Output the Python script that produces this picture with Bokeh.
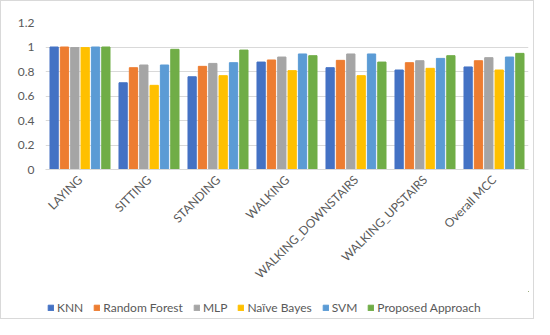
from bokeh.plotting import figure
from bokeh.layouts import column
from bokeh.models import ColumnDataSource, FactorRange, Legend, LegendItem, FixedTicker, Range1d
from bokeh.transform import dodge
from bokeh.embed import file_html
from bokeh.resources import INLINE
import math

categories = ["LAYING", "SITTING", "STANDING", "WALKING", "WALKING_DOWNSTAIRS", "WALKING_UPSTAIRS", "Overall MCC"]
series_names = ["KNN", "Random Forest", "MLP", "Naïve Bayes", "SVM", "Proposed Approach"]
knn = [1.0, 0.708, 0.757, 0.877, 0.831, 0.812, 0.837]
random_forest = [1.0, 0.831, 0.842, 0.894, 0.891, 0.872, 0.888]
mlp = [0.995, 0.853, 0.866, 0.918, 0.943, 0.888, 0.913]
naive_bayes = [0.995, 0.687, 0.766, 0.807, 0.766, 0.826, 0.812]
svm = [1.0, 0.853, 0.872, 0.943, 0.943, 0.907, 0.918]
proposed = [1.0, 0.981, 0.975, 0.929, 0.877, 0.929, 0.948]
y_ticks = [0, 0.2, 0.4, 0.6, 0.8, 1.0, 1.2]
y_tick_labels = ["0", "0.2", "0.4", "0.6", "0.8", "1", "1.2"]

colors = ["#4472C4", "#ED7D31", "#A5A5A5", "#FFC000", "#5B9BD5", "#70AD47"]
keys = ["knn", "rf", "mlp", "nb", "svm", "prop"]
source = ColumnDataSource(dict(cat=categories, knn=knn, rf=random_forest, mlp=mlp,
                               nb=naive_bayes, svm=svm, prop=proposed))

FONT = "Lato"
TXT = "#595959"
p = figure(x_range=FactorRange(*categories), y_range=Range1d(0, 1.2),
           width=532, height=290, output_backend="svg", toolbar_location=None,
           min_border_left=44, min_border_right=5, min_border_top=21, min_border_bottom=122)
p.outline_line_color = None

offsets = [-0.375, -0.225, -0.075, 0.075, 0.225, 0.375]
for k, c, off in zip(keys, colors, offsets):
    p.vbar(x=dodge("cat", off, range=p.x_range), top=k, width=0.12, source=source,
           fill_color=c, line_color=c)

p.yaxis.ticker = FixedTicker(ticks=y_ticks)
p.yaxis.major_label_overrides = {t: l for t, l in zip(y_ticks, y_tick_labels)}
p.yaxis.axis_line_color = None
p.yaxis.major_tick_line_color = None
p.yaxis.minor_tick_line_color = None
p.xaxis.major_tick_line_color = None
p.xaxis.major_tick_out = 0
p.xaxis.axis_line_color = "#d9d9d9"
p.xaxis.major_label_orientation = math.pi / 4
p.xaxis.major_label_standoff = 8
for ax in (p.xaxis, p.yaxis):
    ax.major_label_text_font = FONT
    ax.major_label_text_font_size = "12px"
    ax.major_label_text_color = TXT
p.xgrid.grid_line_color = None
p.ygrid.grid_line_color = "#d9d9d9"

# legend in its own strip below the chart (swatches use off-screen points)
lf = figure(width=532, height=27, output_backend="svg", toolbar_location=None,
            x_range=Range1d(0, 1), y_range=Range1d(0, 1),
            min_border=0, outline_line_color=None)
lf.axis.visible = False
lf.grid.visible = False
offscreen = ColumnDataSource(dict(x=[10], top=[10]))
items = []
for c, name in zip(colors, series_names):
    r = lf.vbar(x="x", top="top", bottom=9, width=0.1, source=offscreen, fill_color=c, line_color=c)
    items.append(LegendItem(label=name, renderers=[r]))
legend = Legend(items=items, orientation="horizontal", location=(2, 3),
                label_text_font=FONT, label_text_font_size="12px", label_text_color=TXT,
                glyph_width=7, glyph_height=7, label_standoff=3, spacing=10,
                border_line_color=None, background_fill_alpha=0, padding=0, margin=0)
lf.add_layout(legend, "center")

layout = column(p, lf, spacing=0, styles={"border": "1px solid #d9d9d9"})
open("out.html", "w").write(file_html(layout, INLINE))
